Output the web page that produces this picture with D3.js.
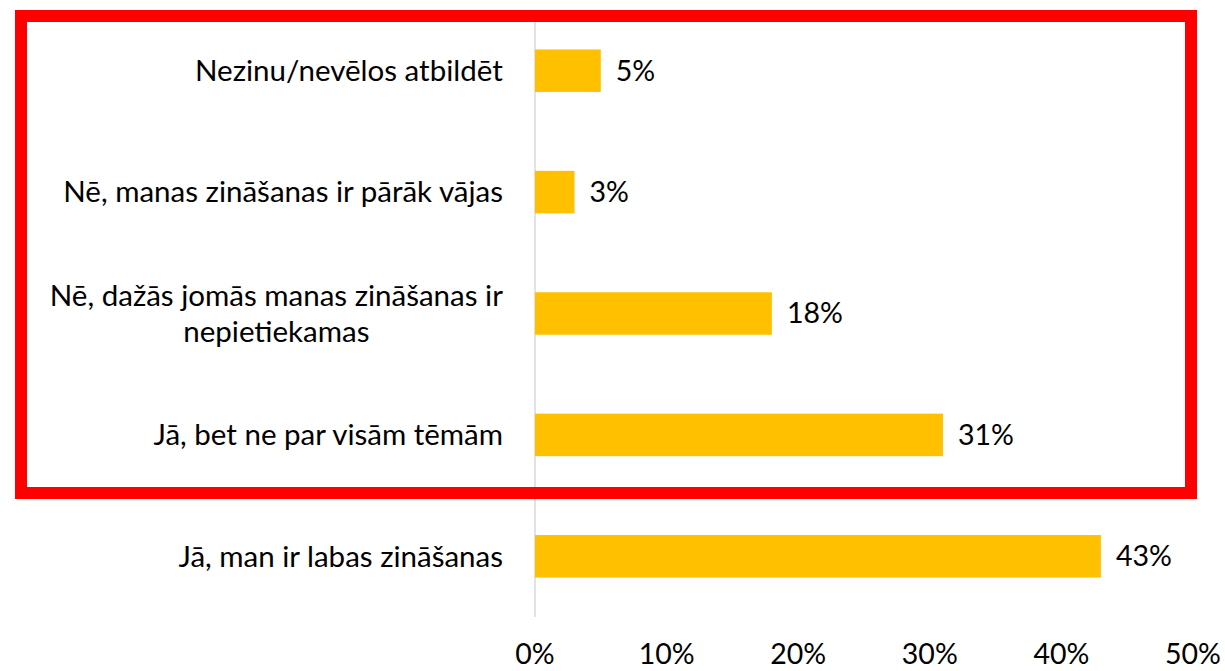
<!DOCTYPE html>
<html><head><meta charset="utf-8">
<script src="https://cdn.jsdelivr.net/npm/d3@7"></script>
<style>body{margin:0;background:#fff}svg{display:block}</style>
</head><body>
<svg id="c" width="1225" height="671"></svg>
<script>
const categories = [
  ["Nezinu/nevēlos atbildēt"],
  ["Nē, manas zināšanas ir pārāk vājas"],
  ["Nē, dažās jomās manas zināšanas ir", "nepietiekamas"],
  ["Jā, bet ne par visām tēmām"],
  ["Jā, man ir labas zināšanas"]
];
const values = [5, 3, 18, 31, 43];
const ticks = [0, 10, 20, 30, 40, 50];

const FONT = "Lato, 'Open Sans', sans-serif";
const FS = 29.5;
const svg = d3.select("#c");
const x = d3.scaleLinear().domain([0, 50]).range([535, 1193]);
const y = d3.scaleBand().domain(d3.range(categories.length)).range([10, 617]).paddingInner(0.65).paddingOuter(0.325);

// axis line
svg.append("line").attr("x1", x(0)).attr("x2", x(0)).attr("y1", 10).attr("y2", 617)
  .attr("stroke", "#d9d9d9").attr("stroke-width", 1.5);

// bars
svg.selectAll("rect.bar").data(values).join("rect").attr("class", "bar")
  .attr("x", x(0)).attr("y", (d, i) => y(i)).attr("width", d => x(d) - x(0))
  .attr("height", y.bandwidth()).attr("fill", "#FFC000");

// value labels
svg.selectAll("text.val").data(values).join("text").attr("class", "val")
  .attr("x", d => x(d) + 15).attr("y", (d, i) => y(i) + y.bandwidth() / 2)
  .attr("dy", "0.35em").attr("font-family", FONT).attr("font-size", 28.5).attr("fill", "#000")
  .text(d => d + "%");

// category labels
const lineH = 36;
categories.forEach((lines, i) => {
  const cy = y(i) + y.bandwidth() / 2;
  const g = svg.append("g");
  const t = g.append("text").attr("font-family", FONT).attr("font-size", FS).attr("fill", "#000");
  const n = lines.length;
  lines.forEach((l, k) => {
    t.append("tspan").attr("x", 0).attr("y", cy + (k - (n - 1) / 2) * lineH).attr("dy", "0.35em")
      .attr("text-anchor", "middle").text(l);
  });
  const bb = t.node().getBBox();
  g.attr("transform", `translate(${503 - bb.width / 2},0)`);
});

// x tick labels
svg.selectAll("text.tick").data(ticks).join("text").attr("class", "tick")
  .attr("x", d => x(d)).attr("y", 654).attr("dy", "0.35em").attr("text-anchor", "middle")
  .attr("font-family", FONT).attr("font-size", 28.5).attr("fill", "#000")
  .text(d => d + "%");

// red highlight box
svg.append("rect").attr("x", 21).attr("y", 16).attr("width", 1170).attr("height", 477)
  .attr("fill", "none").attr("stroke", "#FF0000").attr("stroke-width", 12);
</script>
</body></html>
